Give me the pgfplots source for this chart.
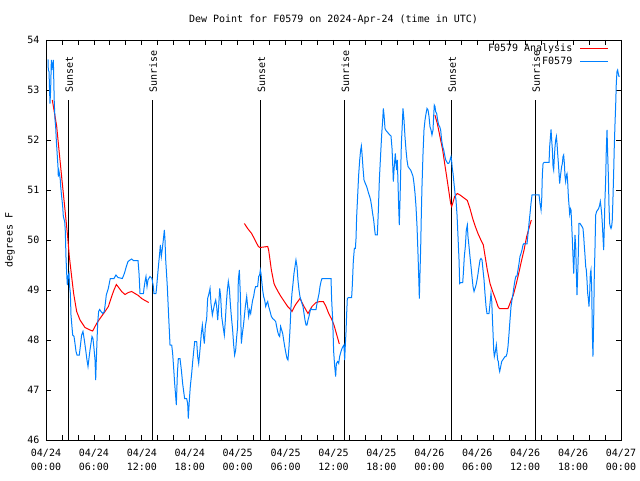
\documentclass[border=0pt]{standalone}
\usepackage{pgfplots}
\pgfplotsset{compat=1.18}
\usepackage{fontspec}
\setmainfont{DejaVu Sans Mono}
\definecolor{anared}{RGB}{255,0,0}
\definecolor{obsblue}{RGB}{0,128,255}
\begin{document}
\begin{tikzpicture}
\useasboundingbox (-46pt,-40pt) rectangle (594pt,440pt);
\begin{axis}[
  at={(0,0)}, anchor=south west,
  scale only axis, width=575pt, height=400pt,
  xmin=0, xmax=72, ymin=46, ymax=54,
  font=\fontsize{10}{12}\selectfont,
  /pgf/number format/assume math mode=true,
  xtick={0,6,...,72},
  minor x tick num=2,
  xticklabels={{04/24\\00:00},{04/24\\06:00},{04/24\\12:00},{04/24\\18:00},{04/25\\00:00},{04/25\\06:00},{04/25\\12:00},{04/25\\18:00},{04/26\\00:00},{04/26\\06:00},{04/26\\12:00},{04/26\\18:00},{04/27\\00:00}},
  xticklabel style={align=center, font=\fontsize{10}{14}\selectfont, anchor=north, yshift=-6pt},
  ytick={46,47,...,54},
  yticklabel style={xshift=-3pt},
  tick align=inside,
  major tick length=5pt, minor tick length=5pt,
  tick style={black, line width=0.8pt},
  axis line style={line width=0.8pt},
  every axis title/.style={at={(0.5,1)}, anchor=center, yshift=20pt},
  title={Dew Point for F0579 on 2024-Apr-24 (time in UTC)},
  every axis y label/.style={at={(rel axis cs:0,0.5)}, xshift=-36pt, rotate=90, anchor=center},
  ylabel={degrees F},
  legend style={at={(rel axis cs:1,1)}, anchor=north east, draw=none, fill=none,
    inner sep=0pt, xshift=-12pt, yshift=-2pt, column sep=6pt, row sep=0pt,
    nodes={inner sep=1.5pt, text height=7.5pt, text depth=2.5pt},
    font=\fontsize{10}{12}\selectfont},
  legend cell align=right,
  legend plot pos=right,
  legend image code/.code={\draw[#1] (0pt,0pt) -- (28pt,0pt);},
]
% Sunrise / sunset markers
\addplot[black, line width=0.8pt, forget plot] coordinates {(2.75,46) (2.75,52.8)};
\addplot[black, line width=0.8pt, forget plot] coordinates {(13.27,46) (13.27,52.8)};
\addplot[black, line width=0.8pt, forget plot] coordinates {(26.80,46) (26.80,52.8)};
\addplot[black, line width=0.8pt, forget plot] coordinates {(37.32,46) (37.32,52.8)};
\addplot[black, line width=0.8pt, forget plot] coordinates {(50.71,46) (50.71,52.8)};
\addplot[black, line width=0.8pt, forget plot] coordinates {(61.23,46) (61.23,52.8)};
\node[rotate=90, anchor=west, inner sep=0pt, text height=10pt, text depth=0pt] at (axis cs:2.75,52.95) {Sunset};
\node[rotate=90, anchor=west, inner sep=0pt, text height=10pt, text depth=0pt] at (axis cs:13.27,52.95) {Sunrise};
\node[rotate=90, anchor=west, inner sep=0pt, text height=10pt, text depth=0pt] at (axis cs:26.80,52.95) {Sunset};
\node[rotate=90, anchor=west, inner sep=0pt, text height=10pt, text depth=0pt] at (axis cs:37.32,52.95) {Sunrise};
\node[rotate=90, anchor=west, inner sep=0pt, text height=10pt, text depth=0pt] at (axis cs:50.71,52.95) {Sunset};
\node[rotate=90, anchor=west, inner sep=0pt, text height=10pt, text depth=0pt] at (axis cs:61.23,52.95) {Sunrise};

% Analysis (red)
\addplot[anared, line width=1pt] table {
x y
0.79 52.80
1.34 52.27
1.67 51.73
2.00 51.20
2.38 50.60
2.71 50.07
2.92 49.67
3.21 49.27
3.46 48.93
3.84 48.57
4.26 48.40
4.88 48.25
5.51 48.20
5.84 48.18
6.01 48.23
6.34 48.33
6.76 48.43
7.39 48.57
7.81 48.67
8.22 48.87
8.51 49.00
8.81 49.11
9.10 49.05
9.47 48.97
9.89 48.91
10.31 48.95
10.73 48.97
11.14 48.93
11.56 48.89
11.98 48.83
12.40 48.79
12.86 48.75
};
\addlegendentry{F0579 Analysis}
\addplot[anared, line width=1pt, forget plot] table {
x y
24.84 50.33
25.25 50.23
25.75 50.13
26.17 50.00
26.59 49.87
26.80 49.85
27.76 49.87
27.88 49.80
28.05 49.60
28.22 49.40
28.38 49.27
28.55 49.13
28.72 49.07
29.05 48.97
29.42 48.87
29.84 48.77
30.26 48.67
30.68 48.60
30.80 48.57
31.22 48.70
31.80 48.83
32.31 48.67
32.81 48.53
33.31 48.67
33.81 48.75
34.31 48.77
34.73 48.77
35.06 48.67
35.40 48.53
35.73 48.43
36.06 48.30
36.73 47.92
};
\addplot[anared, line width=1pt, forget plot] table {
x y
48.70 52.50
49.00 52.33
49.33 52.07
49.67 51.80
49.92 51.53
50.17 51.27
50.42 51.00
50.67 50.73
50.80 50.67
50.92 50.73
51.17 50.87
51.51 50.93
51.84 50.90
52.26 50.85
52.76 50.79
53.09 50.63
53.43 50.43
53.76 50.27
54.09 50.13
54.43 50.01
54.76 49.90
54.93 49.73
55.26 49.40
55.60 49.13
55.93 48.97
56.26 48.83
56.60 48.67
56.77 48.63
57.85 48.63
58.19 48.77
58.52 48.90
58.85 49.10
59.19 49.33
59.52 49.57
59.86 49.80
60.19 50.07
60.77 50.40
};

% Observations (blue)
\addplot[obsblue, line width=1pt] table {
x y
0.25 53.61
0.29 53.40
0.38 53.37
0.46 52.93
0.50 52.73
0.58 53.00
0.67 53.60
0.75 53.40
0.83 53.50
0.92 53.60
1.00 53.00
1.04 52.73
1.13 52.40
1.21 52.27
1.29 52.00
1.42 51.67
1.50 51.47
1.54 51.27
1.63 51.37
1.71 51.30
1.79 51.20
1.84 51.07
1.96 50.87
2.09 50.67
2.17 50.47
2.34 50.37
2.42 50.17
2.50 49.67
2.59 49.33
2.67 49.10
2.75 49.27
2.88 49.33
2.96 49.07
3.05 48.93
3.13 48.50
3.25 48.27
3.34 48.10
3.51 48.07
3.63 47.93
3.76 47.77
3.88 47.70
4.17 47.70
4.34 47.93
4.46 48.10
4.63 48.17
4.80 48.00
4.97 47.80
5.13 47.60
5.26 47.47
5.38 47.63
5.51 47.80
5.63 47.93
5.76 48.07
5.88 48.03
6.01 47.83
6.14 47.60
6.22 47.20
6.30 47.60
6.39 48.00
6.47 48.33
6.59 48.57
6.72 48.61
6.89 48.57
7.10 48.53
7.30 48.57
7.43 48.73
7.55 48.90
7.80 49.03
8.05 49.23
8.51 49.23
8.76 49.30
9.01 49.25
9.56 49.23
9.81 49.33
10.06 49.47
10.27 49.57
10.52 49.60
10.73 49.62
10.94 49.59
11.52 49.59
11.65 49.33
11.77 48.93
12.20 48.93
12.27 49.03
12.40 49.17
12.52 49.27
12.65 49.07
12.77 49.20
13.02 49.27
13.27 49.23
13.44 49.07
13.52 48.93
13.77 48.93
13.86 49.07
13.98 49.30
14.11 49.53
14.23 49.73
14.32 49.90
14.44 49.67
14.57 49.83
14.69 50.00
14.82 50.20
14.90 50.00
14.99 49.60
15.19 49.07
15.36 48.47
15.53 47.90
15.74 47.90
15.86 47.73
15.99 47.43
16.11 47.13
16.24 46.87
16.32 46.70
16.45 47.33
16.57 47.63
16.78 47.63
16.95 47.40
17.11 47.13
17.24 46.97
17.36 46.83
17.61 46.83
17.74 46.73
17.82 46.43
17.95 46.80
18.07 47.07
18.24 47.33
18.37 47.57
18.49 47.77
18.62 47.97
18.87 47.97
18.99 47.67
19.12 47.53
19.28 47.80
19.45 48.13
19.58 48.30
19.70 48.10
19.83 47.93
19.95 48.27
20.12 48.43
20.24 48.83
20.41 48.93
20.54 49.03
20.66 48.73
20.83 48.50
20.95 48.60
21.12 48.73
21.25 48.80
21.37 48.67
21.50 48.40
21.62 48.67
21.75 49.03
21.87 48.87
22.00 48.47
22.17 48.27
22.33 48.10
22.46 48.40
22.58 48.73
22.71 49.00
22.83 49.17
22.96 49.03
23.08 48.73
23.21 48.47
23.37 48.20
23.50 47.90
23.62 47.70
23.75 47.80
23.88 48.07
24.00 48.27
24.08 49.20
24.21 49.40
24.33 48.93
24.46 47.93
24.59 48.13
24.71 48.27
24.84 48.47
24.96 48.67
25.13 48.87
25.25 48.67
25.38 48.47
25.50 48.60
25.63 48.53
25.75 48.67
25.88 48.80
26.00 48.87
26.13 49.00
26.25 49.07
26.50 49.07
26.63 49.27
26.75 49.30
26.84 49.40
26.92 49.33
27.00 49.20
27.13 49.00
27.25 48.87
27.38 48.80
27.51 48.67
27.63 48.73
27.76 48.77
27.88 48.67
28.01 48.60
28.22 48.47
28.38 48.43
28.59 48.40
28.76 48.37
28.88 48.27
29.01 48.17
29.13 48.10
29.26 48.07
29.38 48.27
29.51 48.20
29.64 48.13
29.76 48.00
29.89 47.87
30.05 47.73
30.18 47.63
30.30 47.60
30.43 47.87
30.55 48.20
30.68 48.67
30.80 48.93
30.93 49.13
31.05 49.33
31.18 49.47
31.30 49.60
31.43 49.47
31.55 49.20
31.68 49.00
31.80 48.87
31.93 48.80
32.05 48.73
32.18 48.67
32.31 48.53
32.43 48.40
32.56 48.30
32.68 48.30
32.81 48.40
32.93 48.47
33.06 48.57
33.18 48.63
33.31 48.61
33.81 48.61
33.93 48.73
34.06 48.83
34.19 48.93
34.31 49.07
34.44 49.17
34.56 49.23
35.69 49.23
35.77 48.80
35.90 48.40
36.02 47.77
36.15 47.47
36.27 47.27
36.36 47.53
36.52 47.57
36.65 47.53
36.77 47.67
36.94 47.77
37.06 47.83
37.19 47.87
37.31 47.90
37.40 47.60
37.48 47.90
37.56 48.13
37.65 48.53
37.73 48.83
37.90 48.85
38.27 48.85
38.36 49.10
38.48 49.57
38.61 49.83
38.74 49.83
38.82 50.03
38.90 50.47
39.03 50.90
39.15 51.30
39.28 51.60
39.40 51.80
39.49 51.88
39.57 51.73
39.70 51.43
39.82 51.20
39.99 51.13
40.15 51.07
40.28 51.00
40.40 50.93
40.53 50.87
40.65 50.80
40.78 50.67
40.90 50.53
41.03 50.40
41.16 50.20
41.24 50.10
41.49 50.10
41.62 50.60
41.74 51.20
41.91 51.73
42.03 52.10
42.16 52.40
42.24 52.63
42.33 52.50
42.45 52.23
42.58 52.19
42.79 52.15
43.00 52.11
43.20 52.08
43.33 51.83
43.41 51.53
43.49 51.17
43.58 51.40
43.66 51.57
43.74 51.73
43.83 51.53
43.91 51.40
43.99 51.60
44.08 51.13
44.16 50.67
44.24 50.30
44.33 50.80
44.41 51.33
44.50 51.93
44.62 52.33
44.70 52.63
44.83 52.40
44.95 52.07
45.08 51.80
45.20 51.60
45.33 51.47
45.50 51.43
45.66 51.40
45.83 51.33
45.96 51.27
46.08 51.13
46.21 50.93
46.33 50.67
46.46 50.27
46.58 49.73
46.67 49.27
46.75 48.83
46.83 49.33
46.92 49.87
47.00 50.53
47.08 51.07
47.21 51.73
47.33 52.20
47.46 52.40
47.59 52.53
47.71 52.63
47.84 52.60
47.96 52.47
48.08 52.27
48.21 52.20
48.33 52.10
48.46 52.20
48.54 52.47
48.62 52.70
48.71 52.67
48.79 52.57
48.92 52.53
49.04 52.40
49.17 52.30
49.29 52.27
49.42 52.20
49.54 52.00
49.67 51.87
49.80 51.80
49.92 51.70
50.05 51.60
50.17 51.57
50.30 51.53
50.42 51.53
50.55 51.57
50.63 51.63
50.72 51.67
50.80 51.57
50.88 51.43
50.97 51.33
51.09 51.13
51.22 50.93
51.34 50.80
51.47 50.50
51.59 50.07
51.72 49.60
51.80 49.13
51.93 49.15
52.18 49.15
52.26 49.33
52.38 49.67
52.51 49.87
52.63 50.20
52.76 50.30
52.84 50.07
52.97 49.87
53.09 49.67
53.22 49.47
53.34 49.27
53.47 49.07
53.60 48.97
53.72 49.03
53.85 49.10
53.97 49.20
54.10 49.33
54.22 49.47
54.35 49.60
54.47 49.63
54.60 49.60
54.72 49.40
54.85 49.20
54.97 48.93
55.10 48.67
55.22 48.53
55.47 48.53
55.60 48.73
55.72 48.93
55.81 48.80
55.89 48.47
55.98 48.13
56.06 47.80
56.14 47.67
56.27 47.77
56.39 47.90
56.48 47.73
56.56 47.60
56.64 47.57
56.73 47.43
56.81 47.37
56.94 47.47
57.06 47.57
57.19 47.60
57.31 47.63
57.48 47.67
57.60 47.67
57.73 47.73
57.85 47.87
57.98 48.13
58.10 48.40
58.23 48.67
58.35 48.80
58.48 48.93
58.60 49.07
58.73 49.20
58.85 49.28
58.98 49.28
59.10 49.40
59.23 49.53
59.35 49.67
59.48 49.73
59.60 49.80
59.73 49.90
59.85 49.93
59.98 49.92
60.23 49.92
60.36 50.13
60.48 50.33
60.61 50.53
60.73 50.73
60.86 50.90
61.74 50.90
61.86 50.73
61.99 50.60
62.07 50.80
62.15 51.30
62.24 51.53
62.36 51.55
62.99 51.55
63.07 51.87
63.15 52.03
63.24 52.21
63.32 52.00
63.41 51.80
63.49 51.47
63.57 51.40
63.66 51.67
63.74 51.87
63.82 52.00
63.91 52.07
63.99 51.93
64.07 51.73
64.16 51.53
64.24 51.33
64.32 51.13
64.41 51.27
64.49 51.37
64.57 51.47
64.66 51.53
64.74 51.67
64.82 51.70
64.91 51.53
64.99 51.27
65.07 51.17
65.16 51.30
65.24 51.33
65.32 51.17
65.41 50.87
65.49 50.70
65.57 50.53
65.66 50.63
65.74 50.60
65.82 50.33
65.91 50.00
65.99 49.67
66.08 49.33
66.16 49.73
66.24 50.10
66.33 49.87
66.41 49.33
66.49 48.90
66.58 49.33
66.66 49.73
66.74 50.33
66.87 50.33
66.99 50.30
67.12 50.27
67.24 50.23
67.33 50.07
67.41 49.87
67.49 49.70
67.58 49.47
67.66 49.40
67.74 49.20
67.83 48.93
67.91 48.83
67.99 48.67
68.08 48.93
68.16 49.33
68.24 49.40
68.33 49.07
68.41 48.13
68.49 47.67
68.58 48.40
68.66 49.33
68.74 49.80
68.83 50.50
68.95 50.57
69.08 50.60
69.20 50.63
69.33 50.70
69.41 50.77
69.49 50.67
69.58 50.53
69.66 50.33
69.74 50.07
69.83 49.80
69.91 50.27
69.99 50.80
70.08 51.20
70.16 51.80
70.25 52.20
70.33 51.73
70.41 51.33
70.50 50.67
70.58 50.33
70.66 50.27
70.75 50.23
70.83 50.27
70.91 50.40
71.00 50.87
71.08 51.33
71.16 51.87
71.25 52.33
71.33 52.67
71.41 53.13
71.50 53.37
71.58 53.40
71.66 53.33
71.75 53.27
71.83 53.27
};
\addlegendentry{F0579}
\end{axis}
\end{tikzpicture}
\end{document}
